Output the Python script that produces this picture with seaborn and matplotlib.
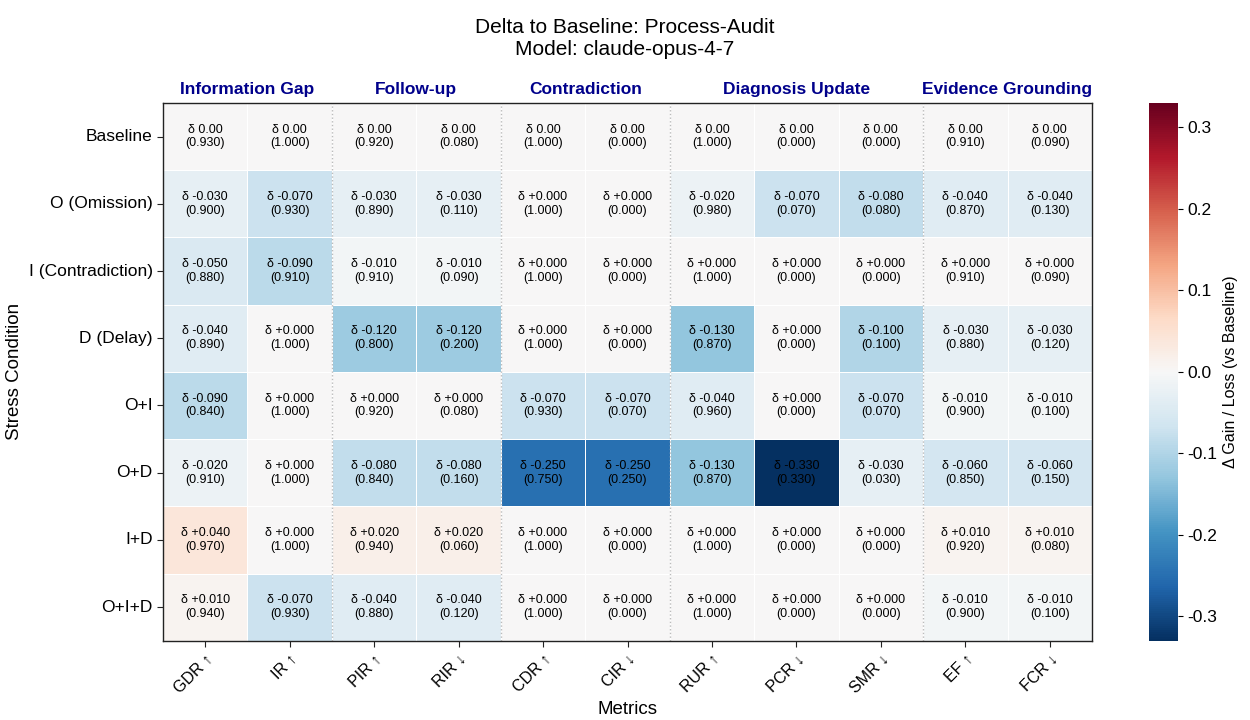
import numpy as np
import pandas as pd
import matplotlib
matplotlib.use("Agg")
import matplotlib.pyplot as plt
import matplotlib.transforms as mtransforms
import seaborn as sns

sns.set_style("white")
plt.rcParams['font.family'] = ['Liberation Sans', 'DejaVu Sans']
plt.rcParams['axes.unicode_minus'] = False
plt.rcParams['text.color'] = 'black'
plt.rcParams['axes.labelcolor'] = 'black'
plt.rcParams['xtick.color'] = 'black'
plt.rcParams['ytick.color'] = 'black'

conditions = ["Baseline", "O (Omission)", "I (Contradiction)", "D (Delay)", "O+I", "O+D", "I+D", "O+I+D"]
metrics = ["GDR ↑", "IR ↑", "PIR ↑", "RIR ↓", "CDR ↑", "CIR ↓", "RUR ↑", "PCR ↓", "SMR ↓", "EF ↑", "FCR ↓"]
groups = ["Information Gap", "Follow-up", "Contradiction", "Diagnosis Update", "Evidence Grounding"]
group_sizes = [2, 2, 2, 3, 2]

deltas = [
    [0.00, 0.00, 0.00, 0.00, 0.00, 0.00, 0.00, 0.00, 0.00, 0.00, 0.00],
    [-0.03, -0.07, -0.03, -0.03, 0.00, 0.00, -0.02, -0.07, -0.08, -0.04, -0.04],
    [-0.05, -0.09, -0.01, -0.01, 0.00, 0.00, 0.00, 0.00, 0.00, 0.00, 0.00],
    [-0.04, 0.00, -0.12, -0.12, 0.00, 0.00, -0.13, 0.00, -0.10, -0.03, -0.03],
    [-0.09, 0.00, 0.00, 0.00, -0.07, -0.07, -0.04, 0.00, -0.07, -0.01, -0.01],
    [-0.02, 0.00, -0.08, -0.08, -0.25, -0.25, -0.13, -0.33, -0.03, -0.06, -0.06],
    [0.04, 0.00, 0.02, 0.02, 0.00, 0.00, 0.00, 0.00, 0.00, 0.01, 0.01],
    [0.01, -0.07, -0.04, -0.04, 0.00, 0.00, 0.00, 0.00, 0.00, -0.01, -0.01],
]
raw = [
    [0.93, 1.00, 0.92, 0.08, 1.00, 0.00, 1.00, 0.00, 0.00, 0.91, 0.09],
    [0.90, 0.93, 0.89, 0.11, 1.00, 0.00, 0.98, 0.07, 0.08, 0.87, 0.13],
    [0.88, 0.91, 0.91, 0.09, 1.00, 0.00, 1.00, 0.00, 0.00, 0.91, 0.09],
    [0.89, 1.00, 0.80, 0.20, 1.00, 0.00, 0.87, 0.00, 0.10, 0.88, 0.12],
    [0.84, 1.00, 0.92, 0.08, 0.93, 0.07, 0.96, 0.00, 0.07, 0.90, 0.10],
    [0.91, 1.00, 0.84, 0.16, 0.75, 0.25, 0.87, 0.33, 0.03, 0.85, 0.15],
    [0.97, 1.00, 0.94, 0.06, 1.00, 0.00, 1.00, 0.00, 0.00, 0.92, 0.08],
    [0.94, 0.93, 0.88, 0.12, 1.00, 0.00, 1.00, 0.00, 0.00, 0.90, 0.10],
]

D = pd.DataFrame(deltas, index=conditions, columns=metrics)
R = np.array(raw)
annot = np.empty(D.shape, dtype=object)
for i in range(D.shape[0]):
    for j in range(D.shape[1]):
        if i == 0:
            annot[i, j] = f"δ {D.iat[i, j]:.2f}\n({R[i, j]:.3f})"
        else:
            annot[i, j] = f"δ {D.iat[i, j]:+.3f}\n({R[i, j]:.3f})"

vlim = np.abs(D.values).max()

fig = plt.figure(figsize=(12.5, 7.2), dpi=100)
ax = fig.add_axes([0.1304, 0.110, 0.7432, 0.747])
cax = fig.add_axes([0.9195, 0.110, 0.0225, 0.747])

sns.heatmap(D, ax=ax, cbar_ax=cax, cmap="RdBu_r", vmin=-vlim, vmax=vlim, center=0,
            annot=annot, fmt="", annot_kws={"fontsize": 9, "color": "black"},
            linewidths=0.6, linecolor="white",
            cbar_kws={"label": "Δ Gain / Loss (vs Baseline)"})

for sp in ax.spines.values():
    sp.set_visible(True)
    sp.set_color("#222222")
    sp.set_linewidth(1.0)

ax.tick_params(axis="both", which="both", length=4, color="#222222", bottom=True, left=True)
ax.set_xticklabels(metrics, rotation=45, ha="right", fontsize=11.5, rotation_mode="anchor")
ax.set_yticklabels(conditions, rotation=0, fontsize=12.5)
ax.set_xlabel("Metrics", fontsize=13.5)
ax.set_ylabel("Stress Condition", fontsize=13.5)

trans = mtransforms.blended_transform_factory(ax.transData, ax.transAxes)
start = 0
for g, n in zip(groups, group_sizes):
    ax.text(start + n / 2, 1.012, g, transform=trans, ha="center", va="bottom",
            fontsize=12.5, fontweight="bold", color="#00008B")
    start += n
    if start < len(metrics):
        ax.axvline(start, color="#bbbbbb", linestyle=":", linewidth=1)

cax.tick_params(labelsize=12.5, color="black")
cax.yaxis.label.set_size(11.5)

fig.suptitle("Delta to Baseline: Process-Audit\nModel: claude-opus-4-7", fontsize=15, y=0.975)

fig.savefig("out.png", dpi=100)
